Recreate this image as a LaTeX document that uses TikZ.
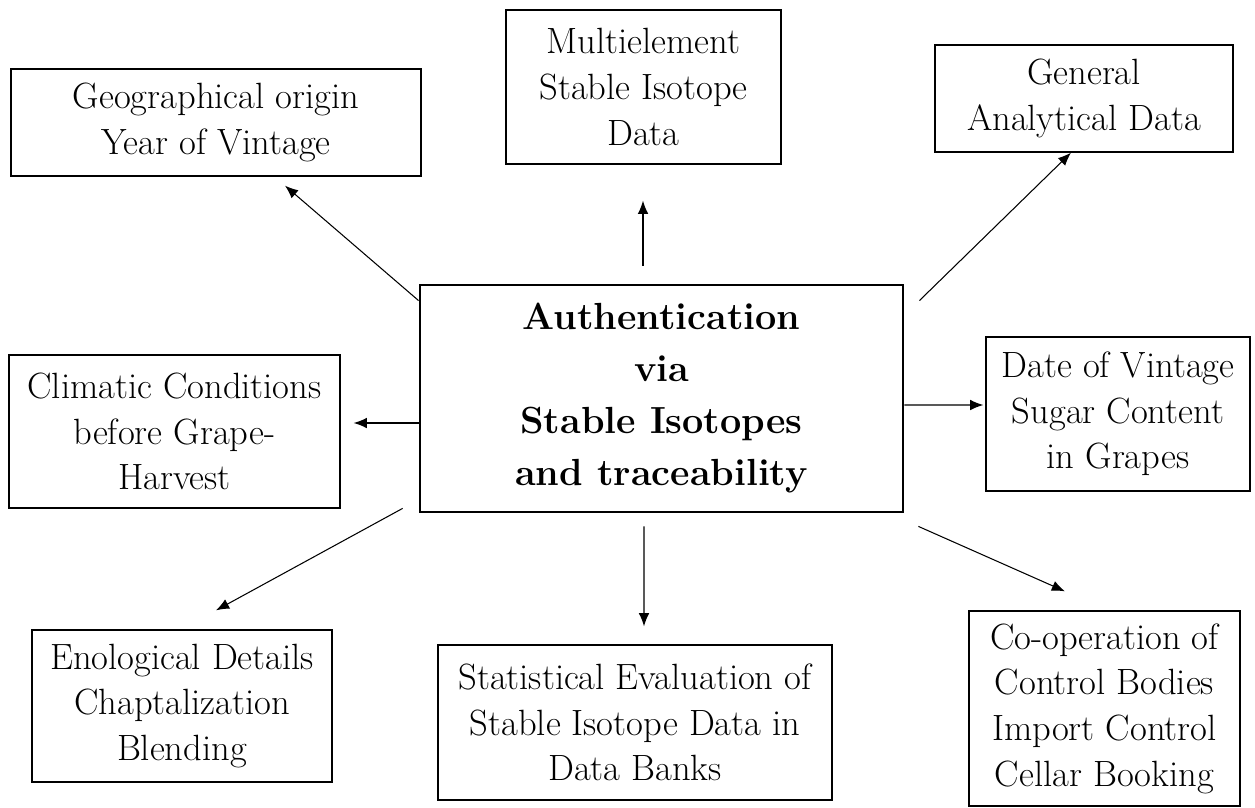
\documentclass[tikz,border=0pt]{standalone}
\usetikzlibrary{arrows.meta}
\tikzset{box/.style={draw, line width=0.75pt, align=center, inner sep=1pt,
		font=\fontsize{20.8}{26}\selectfont},
	mainbox/.style={box, line width=1.6pt, font=\fontsize{21.5}{29.6}\selectfont\bfseries}}
\begin{document}
\begin{tikzpicture}[>={Latex[length=7.5pt,width=6pt]}, line width=0.6pt]

		\useasboundingbox (0,0) rectangle (25.1,-16.16);
		% boxes
		\node[mainbox, minimum width=9.66cm, minimum height=4.54cm] (ctr) at (13.23,-7.97) {Authentication\\via\\Stable Isotopes\\and traceability};
		\node[box, minimum width=8.2cm, minimum height=2.14cm] (geo) at (4.32,-2.45) {Geographical origin\\Year of Vintage};
		\node[box, minimum width=5.5cm, minimum height=3.08cm] (multi) at (12.87,-1.74) {Multielement\\Stable Isotope\\Data};
		\node[box, minimum width=5.96cm, minimum height=2.14cm] (gen) at (21.68,-1.97) {General\\Analytical Data};
		\node[box, minimum width=6.62cm, minimum height=3.06cm] (clim) at (3.49,-8.63) {Climatic Conditions\\before Grape-\\Harvest};
		\node[box, minimum width=5.28cm, minimum height=3.08cm] (date) at (22.36,-8.28) {Date of Vintage\\Sugar Content\\in Grapes};
		\node[box, minimum width=6.0cm, minimum height=3.04cm] (eno) at (3.64,-14.12) {Enological Details\\Chaptalization\\Blending};
		\node[box, minimum width=7.88cm, minimum height=3.1cm] (stat) at (12.7,-14.45) {Statistical Evaluation of\\Stable Isotope Data in\\Data Banks};
		\node[box, minimum width=5.42cm, minimum height=3.9cm] (coop) at (22.09,-14.17) {Co-operation of\\Control Bodies\\Import Control\\Cellar Booking};

		% arrows
		\draw[->] ([yshift=-0.34cm]ctr.north west) -- ([xshift=1.38cm,yshift=-0.18cm]geo.south);
		\draw[->] ([xshift=-0.37cm,yshift=0.36cm]ctr.north) -- ([xshift=-0.01cm,yshift=-0.72cm]multi.south);
		\draw[->] ([xshift=0.3cm,yshift=-0.34cm]ctr.north east) -- ([xshift=-0.26cm]gen.south);
		\draw[->] ([yshift=-0.49cm]ctr.west) -- ([xshift=0.26cm,yshift=0.17cm]clim.east);
		\draw[->] ([yshift=-0.13cm]ctr.east) -- ([xshift=-0.04cm,yshift=0.18cm]date.west);
		\draw[->] ([xshift=-0.32cm,yshift=0.1cm]ctr.south west) -- ([xshift=0.68cm,yshift=0.38cm]eno.north);
		\draw[->] ([xshift=-0.35cm,yshift=-0.26cm]ctr.south) -- ([xshift=0.18cm,yshift=0.36cm]stat.north);
		\draw[->] ([xshift=0.28cm,yshift=-0.26cm]ctr.south east) -- ([xshift=-0.79cm,yshift=0.38cm]coop.north);
\end{tikzpicture}
\end{document}
